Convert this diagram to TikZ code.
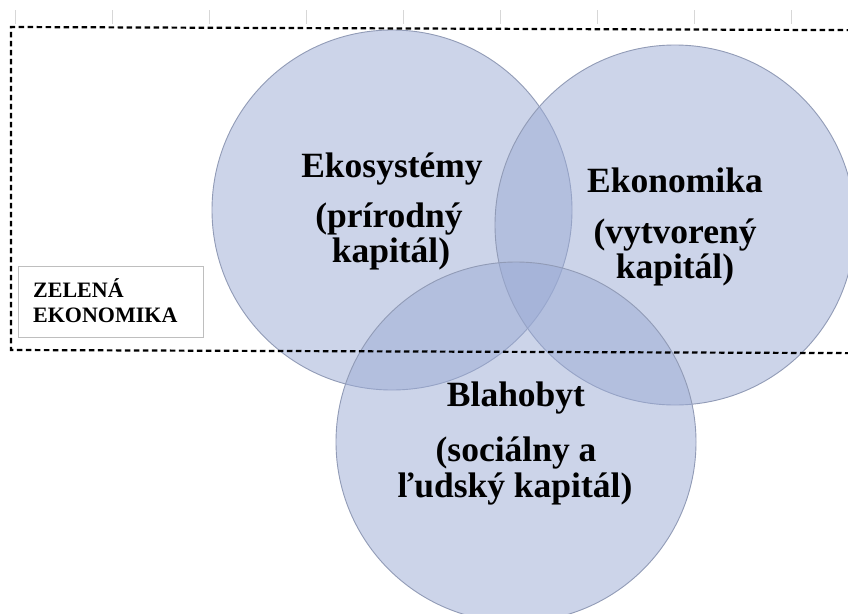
\documentclass[tikz,border=0pt]{standalone}
\usepackage{fontspec}
\setmainfont{Liberation Serif}
\definecolor{circfill}{RGB}{155,171,213}
\definecolor{circline}{RGB}{145,155,182}
\definecolor{tickgray}{RGB}{215,215,215}
\definecolor{boxgray}{RGB}{190,190,190}
\begin{document}
\begin{tikzpicture}[x=1pt,y=-1pt,
  venn/.style={circle, minimum size=360pt, inner sep=0pt, outer sep=0pt, fill=circfill, fill opacity=0.5, draw=circline, draw opacity=1, line width=0.9pt},
  title/.style={font=\fontsize{35.5}{35}\selectfont\bfseries, anchor=base, inner sep=0pt},
  lbl/.style={font=\fontsize{22}{25}\selectfont\bfseries, anchor=base west, inner sep=0pt},
  tickline/.style={draw=tickgray, line width=0.8pt},
  frame/.style={draw=black, line width=2.2pt, dash pattern=on 5.5pt off 3.5pt},
  greenbox/.style={draw=boxgray, line width=1pt, minimum width=185pt, minimum height=71pt, anchor=north west, inner sep=0pt}]
\useasboundingbox (0,0) rectangle (848,613);
\clip (0,0) rectangle (848,613);
\fill[white] (0,0) rectangle (848,613);
\foreach \x in {15,112,...,791} \draw[tickline] (\x,10) -- (\x,24);
\node[venn] (eko) at (392,210) {};
\node[venn] (ekon) at (675,225) {};
\node[venn] (blah) at (516,442) {};
\node[title] (eko1) at (392,177) {Ekosystémy};
\node[title] (eko2) at (389,227) {(prírodný};
\node[title] (eko3) at (391,262) {kapitál)};
\node[title] (ekon1) at (675,192) {Ekonomika};
\node[title] (ekon2) at (675,243) {(vytvorený};
\node[title] (ekon3) at (675,278) {kapitál)};
\node[title] (bl1) at (516,406) {Blahobyt};
\node[title] (bl2) at (516,461) {(sociálny a};
\node[title] (bl3) at (515,497) {ľudský kapitál)};
\draw[frame] (870,30.2) -- (11,27) -- (11,350) -- (870,353.2);
\node[greenbox] (box) at (18,266) {};
\node[lbl] (z1) at (33,297) {ZELENÁ};
\node[lbl] (z2) at (33,322) {EKONOMIKA};
\end{tikzpicture}
\end{document}
